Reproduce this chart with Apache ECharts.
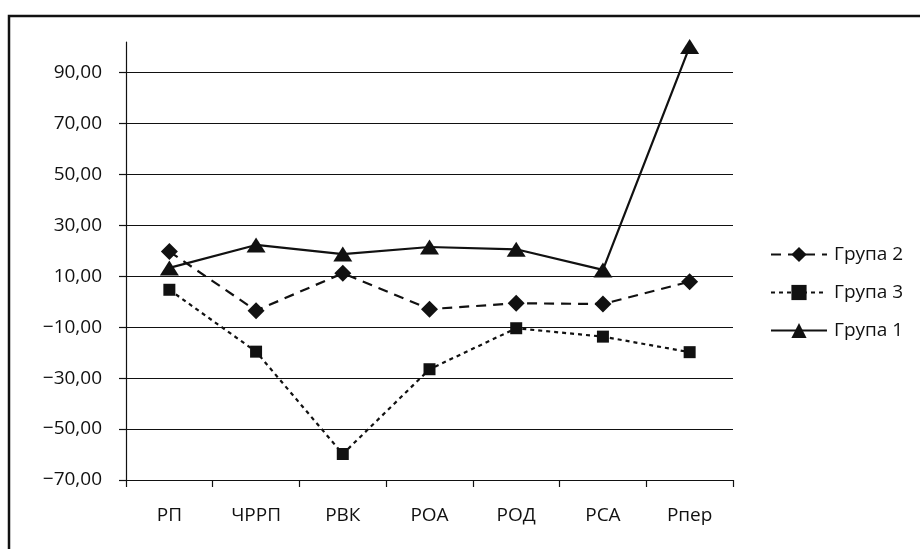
<!DOCTYPE html>
<html>
<head>
<meta charset="utf-8">
<script src="https://cdn.jsdelivr.net/npm/echarts@6/dist/echarts.min.js"></script>
<style>
html,body{margin:0;padding:0;background:#fff;}
#chart{width:920px;height:549px;}
</style>
</head>
<body>
<div id="chart"></div>
<script>
const categories = ['РП', 'ЧРРП', 'РВК', 'РОА', 'РОД', 'РСА', 'Рпер'];
const group2 = [19.7, -3.5, 11.2, -2.9, -0.6, -0.9, 7.9];
const group3 = [4.7, -19.6, -59.8, -26.5, -10.4, -13.7, -19.8];
const group1 = [13.3, 22.3, 18.7, 21.5, 20.6, 12.5, 100.2];
const seriesNames = ['Група 2', 'Група 3', 'Група 1'];
const yMin = -70, yMax = 102, yStep = 20;

const ink = '#111111';
const font = '"Open Sans", "Noto Sans", sans-serif';

function fmt(v) {
  const s = Math.abs(v).toFixed(2).replace('.', ',');
  return (v < 0 ? '\u2212' : '') + s;
}

const chart = echarts.init(document.getElementById('chart'));
chart.setOption({
  backgroundColor: '#fff',
  animation: false,
  graphic: [{
    type: 'rect',
    shape: { x: 9, y: 16, width: 1000, height: 1000 },
    style: { fill: 'none', stroke: ink, lineWidth: 2.5 },
    silent: true
  }],
  grid: { left: 126, right: 187, top: 42, bottom: 69 },
  legend: {
    orient: 'vertical',
    left: 765,
    top: 240,
    itemGap: 19,
    itemWidth: 56,
    itemHeight: 19,
    data: seriesNames,
    textStyle: { color: ink, fontFamily: font, fontSize: 19, padding: [0, 0, 0, 2] }
  },
  xAxis: {
    type: 'category',
    data: categories,
    boundaryGap: true,
    axisLine: { onZero: false, lineStyle: { color: ink, width: 1.2 } },
    axisTick: { show: true, length: 7, lineStyle: { color: ink, width: 1.2 } },
    axisLabel: { color: ink, fontFamily: font, fontSize: 19, margin: 26 }
  },
  yAxis: {
    type: 'value',
    min: yMin,
    max: yMax,
    interval: yStep,
    axisLine: { show: true, lineStyle: { color: ink, width: 1.2 } },
    axisTick: { show: true, length: 7, lineStyle: { color: ink, width: 1.2 } },
    axisLabel: {
      color: ink, fontFamily: font, fontSize: 19, margin: 24,
      showMaxLabel: false,
      formatter: function (v) { return v > 95 ? '' : fmt(v); }
    },
    splitLine: { show: true, showMaxLine: false, showMinLine: false, lineStyle: { color: ink, width: 1.1 } }
  },
  series: [
    {
      name: seriesNames[0], type: 'line', data: group2,
      symbol: 'diamond', symbolSize: [17, 17],
      itemStyle: { color: ink },
      lineStyle: { color: ink, width: 2.2, type: [10, 7] },
      z: 3
    },
    {
      name: seriesNames[1], type: 'line', data: group3,
      symbol: 'rect', symbolSize: 12,
      itemStyle: { color: ink },
      lineStyle: { color: ink, width: 2.2, type: [4, 4] },
      z: 4
    },
    {
      name: seriesNames[2], type: 'line', data: group1,
      symbol: 'triangle', symbolSize: [19, 15],
      itemStyle: { color: ink },
      lineStyle: { color: ink, width: 2.2, type: 'solid' },
      z: 5
    }
  ]
});
</script>
</body>
</html>
